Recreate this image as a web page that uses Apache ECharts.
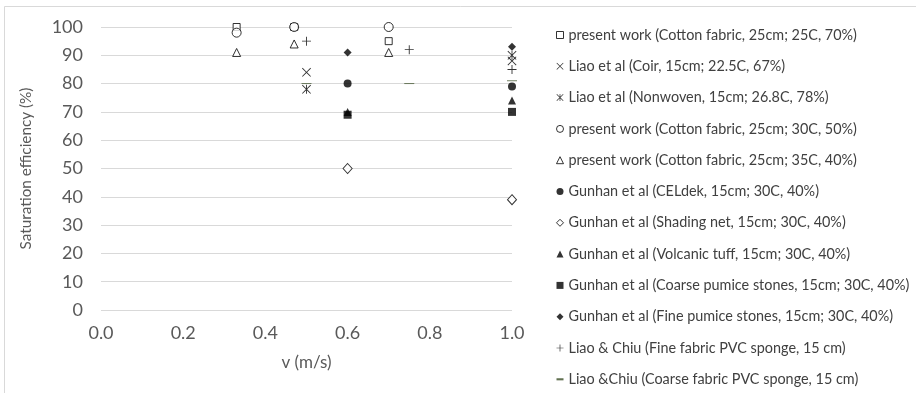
<!DOCTYPE html>
<html>
<head>
<meta charset="utf-8">
<script src="https://cdn.jsdelivr.net/npm/echarts@6/dist/echarts.min.js"></script>
<style>
  html, body { margin: 0; padding: 0; background: #fff; }
  #chart { width: 916px; height: 393px; }
</style>
</head>
<body>
<div id="chart"></div>
<script>
// Saturation efficiency vs. air velocity for several pad materials
const xTicks = ['0.0', '0.2', '0.4', '0.6', '0.8', '1.0'];
const yTicks = [0, 10, 20, 30, 40, 50, 60, 70, 80, 90, 100];

const pw25 = [[0.33, 100], [0.47, 100], [0.70, 95]];
const liaoCoir = [[0.50, 84], [1.00, 88]];
const liaoNonwoven = [[0.50, 78], [1.00, 90]];
const pw30 = [[0.33, 98], [0.47, 100], [0.70, 100]];
const pw35 = [[0.33, 91], [0.47, 94], [0.70, 91]];
const gunCeldek = [[0.60, 80], [1.00, 79]];
const gunShading = [[0.60, 50], [1.00, 39]];
const gunTuff = [[0.60, 70], [1.00, 74]];
const gunCoarse = [[0.60, 69], [1.00, 70]];
const gunFine = [[0.60, 91], [1.00, 93]];
const lcFine = [[0.50, 95], [0.75, 92], [1.00, 85]];
const lcCoarse = [[0.50, 80], [0.75, 80], [1.00, 81]];

const names = [
  'present work (Cotton fabric, 25cm; 25C, 70%)',
  'Liao et al (Coir, 15cm; 22.5C, 67%)',
  'Liao et al (Nonwoven, 15cm; 26.8C, 78%)',
  'present work (Cotton fabric, 25cm; 30C, 50%)',
  'present work (Cotton fabric, 25cm; 35C, 40%)',
  'Gunhan et al (CELdek, 15cm; 30C, 40%)',
  'Gunhan et al (Shading net, 15cm; 30C, 40%)',
  'Gunhan et al (Volcanic tuff, 15cm; 30C, 40%)',
  'Gunhan et al (Coarse pumice stones, 15cm; 30C, 40%)',
  'Gunhan et al (Fine pumice stones, 15cm; 30C, 40%)',
  'Liao & Chiu (Fine fabric PVC sponge, 15 cm)',
  'Liao &Chiu (Coarse fabric PVC sponge, 15 cm)'
];

// thin-stroke glyphs built as filled outlines
const PLUS = 'path://M0,4.5H10V5.5H0Z M4.5,0H5.5V10H4.5Z';
const CROSS = 'path://M0.7,0L5,4.3L9.3,0L10,0.7L5.7,5L10,9.3L9.3,10L5,5.7L0.7,10L0,9.3L4.3,5L0,0.7Z';
const STAR = 'path://M0.7,0L5,4.3L9.3,0L10,0.7L5.7,5L10,9.3L9.3,10L5,5.7L0.7,10L0,9.3L4.3,5L0,0.7Z M4.5,0H5.5V10H4.5Z';
const DASH = 'path://M0,0H10V3H0Z';

const INK = '#000000';
const hollow = { color: '#ffffff', borderColor: INK, borderWidth: 1 };
const solid = { color: INK };

const seriesDefs = [
  { data: pw25, symbol: 'rect', size: 7, style: hollow },
  { data: liaoCoir, symbol: CROSS, size: 9, style: solid },
  { data: liaoNonwoven, symbol: STAR, size: 9, style: solid },
  { data: pw30, symbol: 'circle', size: 9, style: hollow },
  { data: pw35, symbol: 'triangle', size: 8, style: hollow },
  { data: gunCeldek, symbol: 'circle', size: 8, style: solid },
  { data: gunShading, symbol: 'diamond', size: [9, 10], style: hollow },
  { data: gunTuff, symbol: 'triangle', size: 8, style: solid },
  { data: gunCoarse, symbol: 'rect', size: 8, style: solid },
  { data: gunFine, symbol: 'diamond', size: 8, style: solid },
  { data: lcFine, symbol: PLUS, size: 9, style: solid },
  { data: lcCoarse, symbol: DASH, size: [10, 3], style: { color: '#3a4d26' }, keep: true }
];

const series = seriesDefs.map((d, i) => ({
  name: names[i],
  type: 'scatter',
  data: d.data,
  symbol: d.symbol,
  symbolSize: d.size,
  symbolKeepAspect: !!d.keep,
  itemStyle: d.style,
  emphasis: { disabled: true },
  z: 2
}));

const font = 'Lato, "Open Sans", sans-serif';

const chart = echarts.init(document.getElementById('chart'), null, { renderer: 'canvas' });
chart.setOption({
  animation: false,
  backgroundColor: '#ffffff',
  textStyle: { fontFamily: font },
  graphic: [{
    type: 'rect',
    shape: { x: 4.5, y: 6.5, width: 1200, height: 1200 },
    style: { fill: 'none', stroke: '#d9d9d9', lineWidth: 1 },
    silent: true
  }],
  grid: { left: 101, right: 404, top: 27, bottom: 83, containLabel: false },
  xAxis: {
    type: 'value', min: 0, max: 1, interval: 0.2,
    name: 'v (m/s)', nameLocation: 'middle', nameGap: 44,
    nameTextStyle: { color: '#595959', fontSize: 17, fontFamily: font },
    axisLine: { show: false }, axisTick: { show: false },
    splitLine: { show: false },
    axisLabel: {
      color: '#595959', fontSize: 18, margin: 14, fontFamily: font,
      formatter: v => xTicks[Math.round(v / 0.2)]
    }
  },
  yAxis: {
    type: 'value', min: yTicks[0], max: yTicks[yTicks.length - 1], interval: 10,
    name: 'Saturation efficiency (%)', nameLocation: 'middle', nameGap: 67, nameRotate: 90,
    nameTextStyle: { color: '#595959', fontSize: 15.3, fontFamily: font },
    axisLine: { show: false }, axisTick: { show: false },
    splitLine: { show: true, lineStyle: { color: '#d9d9d9', width: 1 } },
    axisLabel: { color: '#595959', fontSize: 18, margin: 18, fontFamily: font }
  },
  legend: {
    orient: 'vertical', left: 556, top: 27, padding: 0,
    itemWidth: 7, itemHeight: 7, itemGap: 15.3,
    selectedMode: false,
    itemStyle: { borderWidth: 1 },
    textStyle: { color: '#404040', fontSize: 14.4, lineHeight: 16, fontFamily: font, padding: [0, 0, 0, 0] },
    data: names
  },
  series: series
});
</script>
</body>
</html>
